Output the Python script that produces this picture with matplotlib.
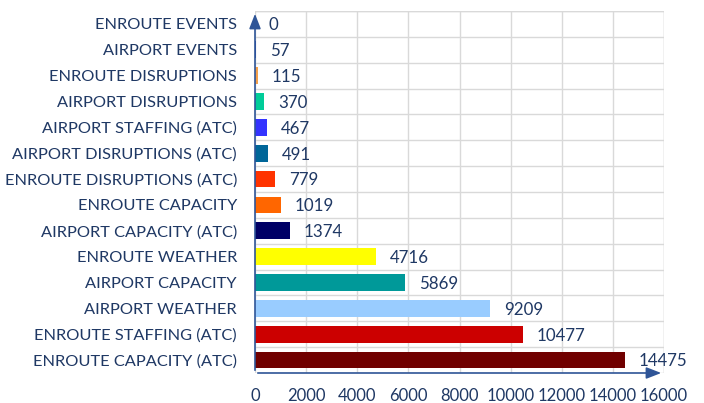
import numpy as np
import matplotlib.pyplot as plt

categories = ['ENROUTE EVENTS', 'AIRPORT EVENTS', 'ENROUTE DISRUPTIONS', 'AIRPORT DISRUPTIONS',
              'AIRPORT STAFFING (ATC)', 'AIRPORT DISRUPTIONS (ATC)', 'ENROUTE DISRUPTIONS (ATC)',
              'ENROUTE CAPACITY', 'AIRPORT CAPACITY (ATC)', 'ENROUTE WEATHER', 'AIRPORT CAPACITY',
              'AIRPORT WEATHER', 'ENROUTE STAFFING (ATC)', 'ENROUTE CAPACITY (ATC)']
values = [0, 57, 115, 370, 467, 491, 779, 1019, 1374, 4716, 5869, 9209, 10477, 14475]
colors = ['#1f3fbf', '#2040c0', '#f4a04a', '#00cc99', '#3333ff', '#006699', '#ff3300',
          '#ff6600', '#000066', '#ffff00', '#009999', '#99ccff', '#cc0000', '#700000']
xticks = [0, 2000, 4000, 6000, 8000, 10000, 12000, 14000, 16000]

txt = '#1f3864'
axc = '#2f5597'
plt.rcParams['font.family'] = ['Lato', 'DejaVu Sans']

fig = plt.figure(figsize=(7.04, 4.03), dpi=100)
ax = fig.add_axes([255 / 704, 1 - 373 / 403, (664 - 255) / 704, (373 - 11) / 403])

y = np.arange(len(categories))
ax.barh(y, values, height=0.65, color=colors, zorder=3)
for yi, v in zip(y, values):
    ax.annotate(str(v), (v, yi), xytext=(10, -1), textcoords='offset points',
                va='center', ha='left', fontsize=12.2, color=txt)

ax.set_ylim(len(categories) - 0.5, -0.5)
ax.set_xlim(0, 16000)
ax.set_yticks(y)
ax.set_yticklabels(categories, fontsize=11.8, color=txt)
ax.set_yticks(np.arange(-0.5, len(categories), 1), minor=True)
ax.set_xticks(xticks)
ax.set_xticklabels([str(t) for t in xticks], fontsize=12, color=txt)
ax.tick_params(axis='both', which='both', length=0)
ax.tick_params(axis='y', pad=13)
ax.tick_params(axis='x', pad=11)

ax.grid(True, which='minor', axis='y', color='#d9d9d9', lw=1, zorder=0)
ax.grid(True, which='major', axis='x', color='#d9d9d9', lw=1, zorder=0)
for s in ['top', 'right', 'left', 'bottom']:
    ax.spines[s].set_visible(False)
ax.axhline(-0.5, color='#d9d9d9', lw=1, zorder=0)
ax.axvline(16000, color='#d9d9d9', lw=1, zorder=0)

ax.annotate('', xy=(1.0, 0), xytext=(0, 0), xycoords='axes fraction',
            arrowprops=dict(arrowstyle='-|>,head_length=0.9,head_width=0.35', color=axc, lw=1.2),
            annotation_clip=False)
ax.annotate('', xy=(0, 1.0), xytext=(0, 0), xycoords='axes fraction',
            arrowprops=dict(arrowstyle='-|>,head_length=0.9,head_width=0.35', color=axc, lw=1.2),
            annotation_clip=False)

fig.savefig('out.png', dpi=100)
